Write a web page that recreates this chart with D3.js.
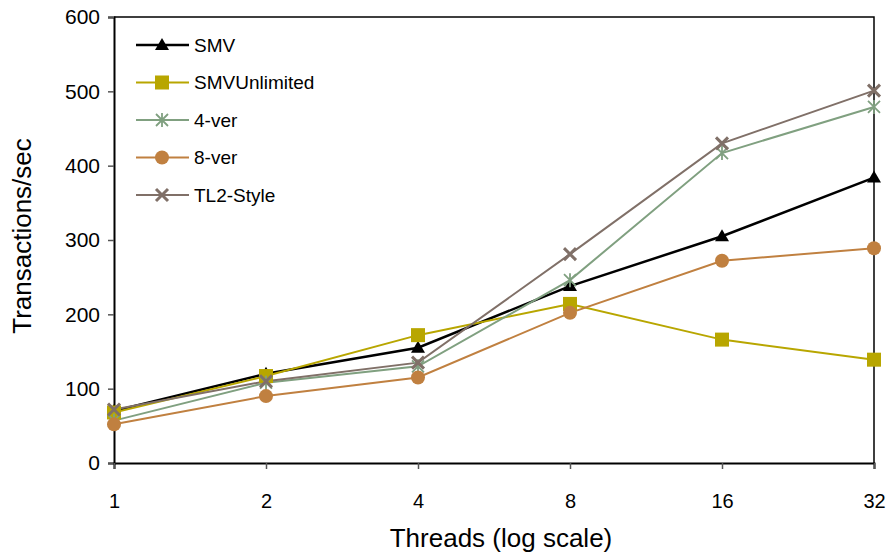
<!DOCTYPE html>
<head>
<meta charset="UTF-8">
<title>Transactions/sec vs Threads</title>
<style>
body { margin: 0; background: #fff; }
text { font-family: "Liberation Sans", Arial, sans-serif; fill: #000; }
.line { fill: none; }
</style>
</head>
<body>
<script src="https://cdn.jsdelivr.net/npm/d3@7"></script>
<script>

// data
var threads = [1, 2, 4, 8, 16, 32];
var smv          = [70, 120, 155, 238, 305, 384];
var smvUnlimited = [68, 117, 172, 214, 166, 139];
var ver4         = [57, 108, 130, 246, 417, 479];
var ver8         = [52, 90, 115, 202, 272, 289];
var tl2Style     = [72, 110, 135, 281, 430, 501];
var yTicks = [0, 100, 200, 300, 400, 500, 600];

var series = [
  { name: "SMV", values: smv, color: "#000000", symbol: "triangle", width: 2.5 },
  { name: "SMVUnlimited", values: smvUnlimited, color: "#b8a600", symbol: "square", width: 2 },
  { name: "4-ver", values: ver4, color: "#80a080", symbol: "star", width: 2 },
  { name: "8-ver", values: ver8, color: "#c08040", symbol: "circle", width: 2 },
  { name: "TL2-Style", values: tl2Style, color: "#807068", symbol: "x", width: 2 }
];

var W = 887, H = 552;
var margin = {top: 17, right: 13, bottom: 89, left: 114};
var width = W - margin.left - margin.right,
    height = H - margin.top - margin.bottom;

var svg = d3.select("body").append("svg")
    .attr("width", W)
    .attr("height", H);

var g = svg.append("g")
    .attr("transform", "translate(" + margin.left + "," + margin.top + ")");

var x = d3.scaleLog().base(2).domain([1, 32]).range([0, width]);
var y = d3.scaleLinear().domain([0, 600]).range([height, 0]);

// plot border (top + right)
g.append("path")
    .attr("d", "M0,0H" + width + "V" + height)
    .attr("fill", "none")
    .attr("stroke", "#000")
    .attr("stroke-width", 1.5);

// y axis
var yAxis = g.append("g")
    .call(d3.axisLeft(y).tickValues(yTicks).tickSize(6).tickPadding(8));
yAxis.select(".domain").attr("stroke-width", 2);
yAxis.selectAll(".tick line").attr("stroke", "#555").attr("stroke-width", 1.5);
yAxis.selectAll("text").style("font-size", "21px");

// x axis
var xAxis = g.append("g")
    .attr("transform", "translate(0," + height + ")")
    .call(d3.axisBottom(x).tickValues(threads).tickFormat(d3.format("d")).tickSize(6).tickPadding(25));
xAxis.select(".domain").attr("stroke-width", 2);
xAxis.selectAll(".tick line").attr("stroke", "#555").attr("stroke-width", 1.5);
xAxis.selectAll("text").style("font-size", "20px");

// axis titles
svg.append("text")
    .attr("x", 501)
    .attr("y", 547)
    .attr("text-anchor", "middle")
    .style("font-size", "26px")
    .text("Threads (log scale)");

svg.append("text")
    .attr("transform", "translate(31," + 236 + ") rotate(-90)")
    .attr("text-anchor", "middle")
    .style("font-size", "26px")
    .text("Transactions/sec");

// markers
function drawMarker(sel, s) {
  var c = s.color;
  if (s.symbol === "triangle") {
    sel.append("path").attr("d", "M0,-7L7,5L-7,5Z").attr("fill", c);
  } else if (s.symbol === "square") {
    sel.append("rect").attr("x", -7).attr("y", -7).attr("width", 14).attr("height", 14).attr("fill", c);
  } else if (s.symbol === "circle") {
    sel.append("circle").attr("r", 7).attr("fill", c);
  } else if (s.symbol === "star") {
    sel.append("path").attr("d", "M-6,-6L6,6M-6,6L6,-6M0,-7V7")
      .attr("stroke", c).attr("stroke-width", 1.8).attr("fill", "none");
  } else if (s.symbol === "x") {
    sel.append("path").attr("d", "M-6,-6L6,6M-6,6L6,-6")
      .attr("stroke", c).attr("stroke-width", 3).attr("fill", "none");
  }
}

var line = d3.line()
    .x(function(d, i) { return x(threads[i]); })
    .y(function(d) { return y(d); });

series.forEach(function(s) {
  g.append("path")
      .attr("class", "line")
      .attr("d", line(s.values))
      .attr("stroke", s.color)
      .attr("stroke-width", s.width);
});

series.forEach(function(s) {
  s.values.forEach(function(v, i) {
    var m = g.append("g")
        .attr("transform", "translate(" + x(threads[i]) + "," + y(v) + ")");
    drawMarker(m, s);
  });
});

// legend
var legend = svg.append("g").attr("transform", "translate(136,45)");
series.forEach(function(s, i) {
  var row = legend.append("g").attr("transform", "translate(0," + (i * 37.5) + ")");
  row.append("line")
      .attr("x1", 0).attr("x2", 53)
      .attr("stroke", s.color)
      .attr("stroke-width", s.width);
  drawMarker(row.append("g").attr("transform", "translate(26,0)"), s);
  row.append("text")
      .attr("x", 58)
      .attr("dy", "0.35em")
      .style("font-size", "19px")
      .text(s.name);
});

</script>
</body>
